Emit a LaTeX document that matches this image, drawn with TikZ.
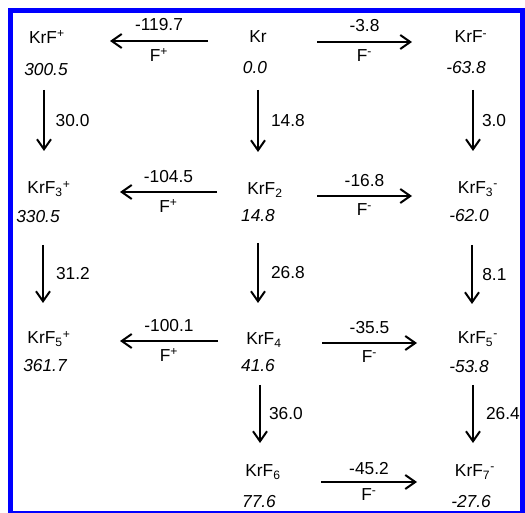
\documentclass[tikz,border=0pt]{standalone}
\usepackage{fontspec}
\setmainfont{Liberation Sans}
\usetikzlibrary{arrows.meta}
\definecolor{frameblue}{RGB}{0,0,255}

\begin{document}
\begin{tikzpicture}[x=0.75pt, y=-0.75pt,
  every node/.style={font=\fontsize{13}{15}\selectfont},
  species/.style={inner sep=1pt},
  energy/.style={inner sep=1pt, font=\fontsize{13}{15}\selectfont\itshape},
  rxn/.style={line width=1.5pt, -{Straight Barb[length=7.5pt,width=10.5pt,line width=1.5pt]}},
  lab/.style={inner sep=1pt}]
\useasboundingbox (0,0) rectangle (525,513);

% Frame
\fill[frameblue] (8,8) rectangle (525,513);
\fill[white] (13,13) rectangle (520,511);

% Cations (left column)
\node[species] (KrFp)  at (47,37)  {KrF\textsuperscript{+}};
\node[energy]  (eKrFp) at (46,70)  {300.5};
\node[species] (KrFthp)  at (49,189) {KrF\textsubscript{3}\textsuperscript{+}};
\node[energy]  (eKrFthp) at (38,217) {330.5};
\node[species] (KrFfvp)  at (49,339) {KrF\textsubscript{5}\textsuperscript{+}};
\node[energy]  (eKrFfvp) at (45,366) {361.7};

% Neutrals (middle column)
\node[species] (Kr)    at (258,37)  {Kr};
\node[energy]  (eKr)   at (255,68)  {0.0};
\node[species] (KrFtw) at (265,190) {KrF\textsubscript{2}};
\node[energy]  (eKrFtw) at (258,216) {14.8};
\node[species] (KrFfr) at (264,340) {KrF\textsubscript{4}};
\node[energy]  (eKrFfr) at (258,366) {41.6};
\node[species] (KrFsx) at (263,472) {KrF\textsubscript{6}};
\node[energy]  (eKrFsx) at (259,502) {77.6};

% Anions (right column)
\node[species] (KrFm)  at (471,37)  {KrF\textsuperscript{-}};
\node[energy]  (eKrFm) at (466,68)  {-63.8};
\node[species] (KrFthm)  at (478,189) {KrF\textsubscript{3}\textsuperscript{-}};
\node[energy]  (eKrFthm) at (469,216) {-62.0};
\node[species] (KrFfvm)  at (478,339) {KrF\textsubscript{5}\textsuperscript{-}};
\node[energy]  (eKrFfvm) at (469,367) {-53.8};
\node[species] (KrFsvm)  at (475,472) {KrF\textsubscript{7}\textsuperscript{-}};
\node[energy]  (eKrFsvm) at (471,502) {-27.6};

% Arrow ends
\foreach \n/\x/\y in {h1a/208/41, h1b/110/41, h2a/217/192, h2b/120/192, h3a/218/341, h3b/120/341,
                      g1a/317/42, g1b/412/42, g2a/317/196, g2b/412/196, g3a/322/343, g3b/417/343, g4a/321/482, g4b/417/482,
                      v1a/44/90, v1b/44/151, v2a/43/245, v2b/43/303,
                      w1a/258/90, w1b/258/152, w2a/258/243, w2b/258/303, w3a/260/385, w3b/260/443,
                      u1a/473/90, u1b/473/151, u2a/472/245, u2b/472/304, u3a/473/385, u3b/473/443}
  \coordinate (\n) at (\x,\y);

% F+ transfer
\draw[rxn] (h1a) -- node[lab,above=6pt] {-119.7} node[lab,below=4pt] {F\textsuperscript{+}} (h1b);
\draw[rxn] (h2a) -- node[lab,above=5pt] {-104.5} node[lab,below=4pt] {F\textsuperscript{+}} (h2b);
\draw[rxn] (h3a) -- node[lab,above=5pt] {-100.1} node[lab,below=4pt] {F\textsuperscript{+}} (h3b);

% F- transfer
\draw[rxn] (g1a) -- node[lab,above=6pt] {-3.8} node[lab,below=4pt] {F\textsuperscript{-}} (g1b);
\draw[rxn] (g2a) -- node[lab,above=5pt] {-16.8} node[lab,below=4pt] {F\textsuperscript{-}} (g2b);
\draw[rxn] (g3a) -- node[lab,above=5pt] {-35.5} node[lab,below=4pt] {F\textsuperscript{-}} (g3b);
\draw[rxn] (g4a) -- node[lab,above=4pt] {-45.2} node[lab,below=3pt] {F\textsuperscript{-}} (g4b);

% F2 addition
\draw[rxn] (v1a) -- node[lab,right=7pt] {30.0} (v1b);
\draw[rxn] (v2a) -- node[lab,right=8pt] {31.2} (v2b);
\draw[rxn] (w1a) -- node[lab,right=8pt] {14.8} (w1b);
\draw[rxn] (w2a) -- node[lab,right=8pt] {26.8} (w2b);
\draw[rxn] (w3a) -- node[lab,right=5pt] {36.0} (w3b);
\draw[rxn] (u1a) -- node[lab,right=5pt] {3.0} (u1b);
\draw[rxn] (u2a) -- node[lab,right=6pt] {8.1} (u2b);
\draw[rxn] (u3a) -- node[lab,right=8pt] {26.4} (u3b);
\end{tikzpicture}
\end{document}
